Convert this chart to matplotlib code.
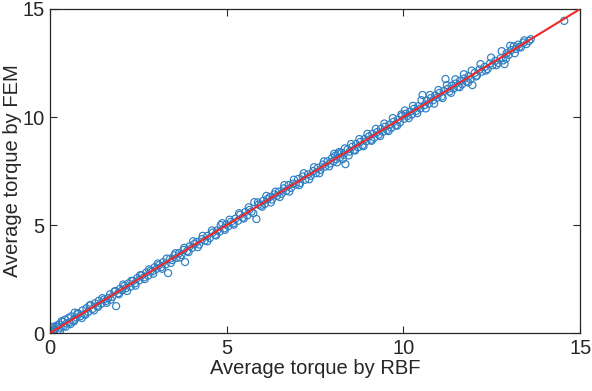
import matplotlib
matplotlib.use("Agg")
import matplotlib.pyplot as plt

# torque values
rbf = [0.02, 0.05, 0.08, 0.10, 0.14, 0.18, 0.22, 0.25, 0.30, 0.33, 0.38, 0.42, 0.47, 0.52, 0.55, 0.60, 0.66, 0.70, 0.75, 0.80, 0.86, 0.92, 0.97,
       1.03, 1.08, 1.15, 1.20, 1.27, 1.33, 1.38, 1.45, 1.52, 1.58, 1.64, 1.70, 1.76, 1.82, 1.87, 1.93, 1.98,
       2.04, 2.10, 2.15, 2.22, 2.28, 2.35, 2.40, 2.47, 2.53, 2.60, 2.66, 2.72, 2.78, 2.85, 2.90, 2.96,
       3.02, 3.08, 3.14, 3.20, 3.27, 3.34, 3.40, 3.46, 3.52, 3.58, 3.65, 3.72, 3.78, 3.82, 3.88, 3.95,
       4.02, 4.08, 4.15, 4.22, 4.30, 4.38, 4.45, 4.52, 4.60, 4.67, 4.73, 4.80, 4.87, 4.93, 4.98,
       5.05, 5.12, 5.18, 5.25, 5.32, 5.38, 5.45, 5.52, 5.58, 5.64, 5.70, 5.78, 5.84, 5.90, 5.96,
       6.03, 6.08, 6.15, 6.22, 6.28, 6.35, 6.42, 6.48, 6.55, 6.62, 6.68, 6.75, 6.82, 6.88, 6.95,
       7.02, 7.08, 7.15, 7.22, 7.30, 7.38, 7.45, 7.52, 7.58, 7.65, 7.72, 7.78, 7.85, 7.92, 7.98,
       8.02, 8.06, 8.10, 8.15, 8.20, 8.25, 8.30, 8.36, 8.42, 8.48, 8.55, 8.60, 8.66, 8.72, 8.78, 8.84, 8.90, 8.95,
       9.02, 9.08, 9.12, 9.18, 9.25, 9.30, 9.36, 9.42, 9.48, 9.54, 9.60, 9.66, 9.72, 9.78, 9.84, 9.90, 9.96,
       10.02, 10.06, 10.12, 10.18, 10.24, 10.30, 10.36, 10.42, 10.48, 10.54, 10.60, 10.66, 10.72, 10.78, 10.84, 10.90, 10.96,
       11.02, 11.08, 11.14, 11.19, 11.25, 11.30, 11.36, 11.42, 11.48, 11.54, 11.60, 11.66, 11.72, 11.78, 11.84, 11.90, 11.95,
       12.02, 12.08, 12.15, 12.22, 12.30, 12.38, 12.45, 12.52, 12.60, 12.68, 12.75, 12.82, 12.86, 12.92, 12.98,
       13.05, 13.12, 13.18, 13.25, 13.32, 13.40, 13.48, 13.55, 14.55,
       0.04, 0.12, 0.20, 0.28, 0.36, 0.45, 0.58, 0.68, 0.78, 0.90, 1.00, 1.12, 1.24, 1.36, 1.48, 1.60, 1.72, 1.85, 1.95,
       2.07, 2.18, 2.30, 2.42, 2.55, 2.68, 2.80, 2.92, 3.05, 3.17, 3.30, 3.42, 3.55, 3.68, 3.80, 3.92,
       4.05, 4.18, 4.32, 4.45, 4.58, 4.70, 4.83, 4.95, 5.08, 5.20, 5.35, 5.48, 5.62, 5.75, 5.88,
       6.00, 6.12, 6.25, 6.38, 6.50, 6.63, 6.77, 6.90, 7.05, 7.18, 7.33, 7.47, 7.62, 7.75, 7.90,
       8.04, 8.12, 8.18, 8.28, 8.34, 8.45, 8.52, 8.63, 8.75, 8.87, 8.98, 9.10, 9.22, 9.34, 9.46, 9.58, 9.70, 9.82, 9.94,
       10.04, 10.15, 10.27, 10.39, 10.51, 10.63, 10.75, 10.87, 10.99, 11.11, 11.23, 11.35, 11.47, 11.59, 11.71, 11.83, 11.93,
       12.05, 12.18, 12.33, 12.48, 12.63, 12.78, 12.90, 13.02, 13.15, 13.28, 13.42, 13.60]

fem = [0.10, 0.22, 0.05, 0.30, 0.15, 0.28, 0.12, 0.40, 0.25, 0.55, 0.31, 0.62, 0.45, 0.70, 0.48, 0.78, 0.60, 0.95, 0.72, 0.90, 0.78, 1.05, 0.88,
       1.15, 0.98, 1.30, 1.12, 1.38, 1.25, 1.50, 1.36, 1.55, 1.48, 1.62, 1.80, 1.68, 1.92, 1.25, 1.85, 2.05,
       1.98, 2.18, 2.08, 2.30, 2.15, 2.42, 2.30, 2.55, 2.45, 2.68, 2.58, 2.80, 2.66, 2.90, 2.86, 3.05,
       2.98, 3.15, 3.05, 3.28, 3.18, 2.78, 3.45, 3.38, 3.60, 3.48, 3.70, 3.62, 3.85, 3.29, 3.80, 4.02,
       3.95, 4.12, 4.22, 4.10, 4.35, 4.28, 4.50, 4.40, 4.65, 4.55, 4.75, 4.70, 5.09, 4.85, 5.02,
       4.95, 5.15, 5.08, 5.30, 5.20, 5.48, 5.35, 5.60, 5.45, 5.70, 5.62, 6.06, 5.28, 5.95, 5.90,
       6.12, 5.98, 6.20, 6.30, 6.18, 6.42, 6.35, 6.55, 6.45, 6.70, 6.58, 6.85, 6.72, 6.92, 6.88,
       7.13, 6.95, 7.25, 7.10, 7.35, 7.28, 7.50, 7.40, 7.65, 7.55, 7.80, 7.70, 7.95, 7.85, 8.10,
       7.95, 8.20, 8.05, 8.30, 8.12, 8.35, 8.25, 7.82, 8.50, 8.40, 8.62, 8.48, 8.75, 8.60, 8.85, 8.70, 8.98, 8.88,
       9.10, 8.95, 9.22, 9.05, 9.30, 9.18, 9.45, 9.32, 9.55, 9.40, 9.65, 9.50, 9.78, 9.62, 9.88, 9.75, 10.05,
       9.92, 10.15, 10.05, 10.25, 10.12, 10.38, 10.28, 10.50, 10.40, 11.02, 10.55, 10.75, 10.62, 10.88, 10.78, 11.00, 10.90,
       11.12, 10.95, 11.20, 11.76, 11.30, 11.18, 11.45, 11.32, 11.55, 11.40, 11.68, 11.52, 11.78, 11.65, 11.88, 11.75, 11.48,
       12.05, 11.92, 12.20, 12.10, 12.32, 12.22, 12.48, 12.40, 12.60, 12.50, 12.72, 12.62, 12.45, 12.95, 12.88,
       13.10, 13.28, 13.15, 13.35, 13.22, 13.45, 13.38, 13.52, 14.45,
       0.00, 0.18, 0.35, 0.10, 0.52, 0.30, 0.42, 0.55, 0.92, 0.70, 0.85, 1.28, 1.05, 1.22, 1.62, 1.40, 1.55, 1.95, 1.80,
       2.25, 1.95, 2.42, 2.20, 2.68, 2.50, 2.95, 2.75, 3.22, 2.98, 3.45, 3.25, 3.70, 3.50, 3.95, 3.75,
       4.25, 3.98, 4.50, 4.25, 4.75, 4.52, 5.00, 4.78, 5.25, 5.02, 5.55, 5.30, 5.82, 5.55, 6.05,
       5.85, 6.35, 6.05, 6.55, 6.30, 6.85, 6.55, 7.10, 6.85, 7.40, 7.12, 7.68, 7.40, 7.95, 7.72,
       8.30, 7.90, 8.38, 8.05, 8.55, 8.22, 8.75, 8.45, 8.98, 8.65, 9.22, 8.90, 9.45, 9.12, 9.70, 9.35, 9.95, 9.60, 10.12,
       10.30, 9.95, 10.52, 10.18, 10.78, 10.40, 11.02, 10.62, 11.25, 10.88, 11.48, 11.12, 11.75, 11.38, 11.98, 11.60, 12.15,
       11.88, 12.45, 12.15, 12.75, 12.40, 13.05, 12.70, 13.30, 12.95, 13.25, 13.55, 13.60]

line_x = [0, 15]
line_y = [0, 15]

plt.rcParams['font.family'] = ['Liberation Sans', 'DejaVu Sans']
dark = '#262626'

fig = plt.figure(figsize=(5.92, 3.91), dpi=100)
ax = fig.add_axes([0.0845, 0.148, 0.8955, 0.829])

ax.scatter(rbf, fem, s=26, facecolors='none', edgecolors='#2E7EC2', linewidths=0.85, zorder=2)
ax.plot(line_x, line_y, color='#F02828', linewidth=1.5, zorder=3)

ax.set_xlim(0, 15)
ax.set_ylim(0, 15)
ax.set_xticks([0, 5, 10, 15])
ax.set_yticks([0, 5, 10, 15])
ax.tick_params(direction='in', top=True, right=True, length=5, width=0.8,
               labelsize=14.5, colors=dark, pad=4)
for sp in ax.spines.values():
    sp.set_color(dark)
    sp.set_linewidth(0.9)

ax.set_xlabel('Average torque by RBF', fontsize=14.5, color=dark, labelpad=1)
ax.set_ylabel('Average torque by FEM', fontsize=14.5, color=dark, labelpad=0.5)

fig.savefig('out.png', dpi=100)
